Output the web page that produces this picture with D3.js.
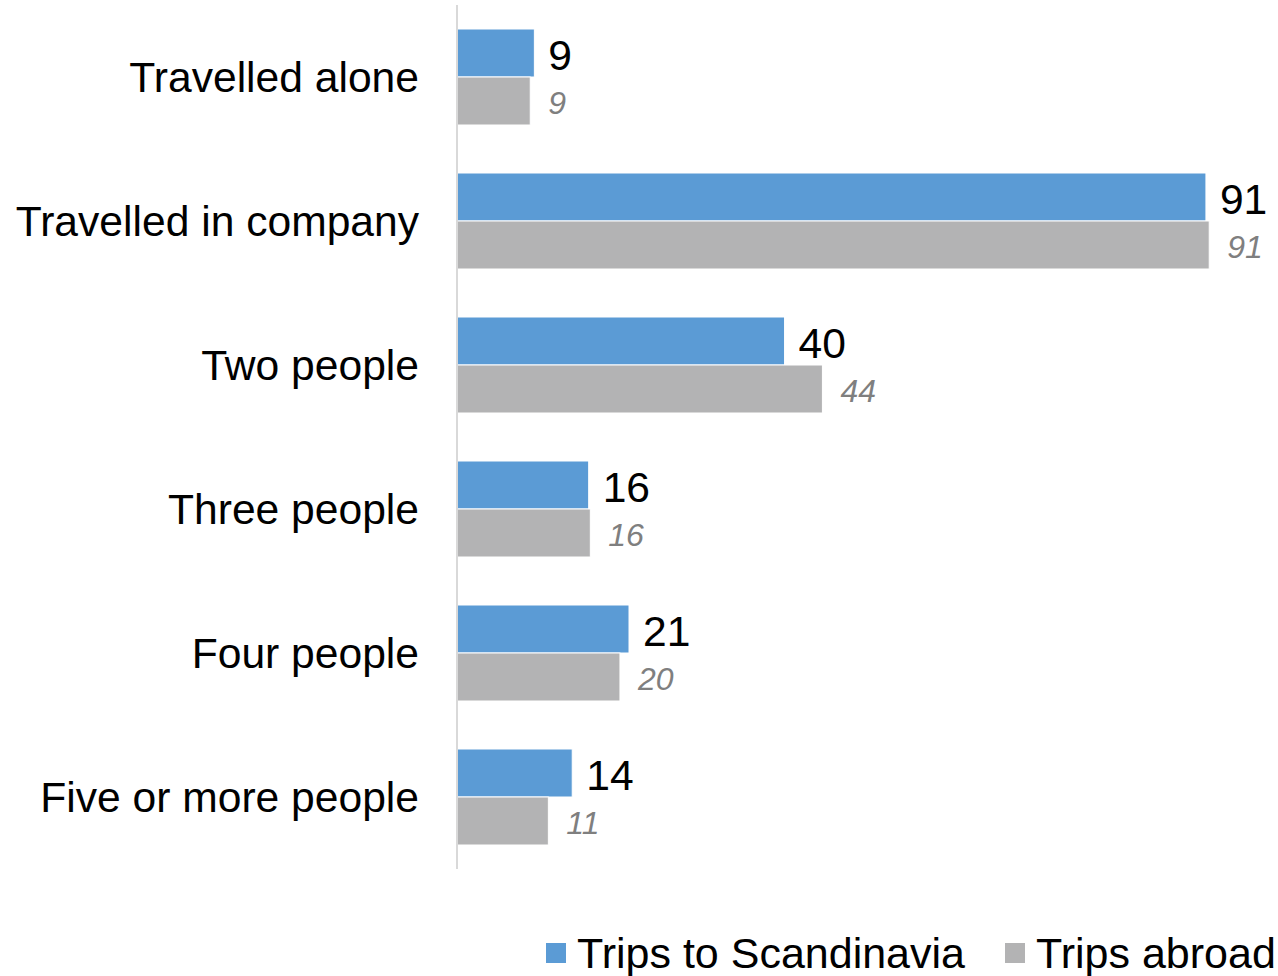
<!DOCTYPE html>
<html>
<head>
<meta charset="utf-8">
<script src="https://cdn.jsdelivr.net/npm/d3@7"></script>
<style>
  body { margin: 0; background: #fff; }
  text { font-family: "Liberation Sans", Arial, sans-serif; }
</style>
</head>
<body>
<div id="chart"></div>
<script>
/* Grouped horizontal bars: travel company, Scandinavia vs abroad */

const categories = ["Travelled alone", "Travelled in company", "Two people", "Three people", "Four people", "Five or more people"];
const seriesNames = ["Trips to Scandinavia", "Trips abroad"];
const scandinavia = [9.4, 91.0, 39.8, 16.0, 20.9, 14.0];
const abroad = [8.9, 91.4, 44.4, 16.2, 19.8, 11.1];
const colors = ["#5b9bd5", "#b3b3b4"];

const width = 1278,
      height = 976,
      margin = ({ top: 5, right: 0, bottom: 107, left: 457 });

const data = categories.map((c, i) => ({ cat: c, values: [scandinavia[i], abroad[i]] }));

let svg = d3.select("#chart")
    .append("svg")
    .attr("width", width)
    .attr("height", height);

let x = d3.scaleLinear()
    .domain([0, 100])
    .range([margin.left, margin.left + 823]);

let y = d3.scaleBand()
    .domain(categories)
    .range([margin.top, height - margin.bottom])
    .paddingInner(1 / 3)
    .paddingOuter(1 / 6);

let sub = d3.scaleBand()
    .domain([0, 1])
    .range([0, y.bandwidth()]);

// category labels
svg.append("g")
  .selectAll("text")
  .data(categories)
  .join("text")
    .attr("x", margin.left - 38)
    .attr("y", d => y(d) + y.bandwidth() / 2)
    .attr("dy", "0.35em")
    .attr("text-anchor", "end")
    .attr("font-size", 42.6)
    .attr("fill", "#000")
    .text(d => d);

let group = svg.selectAll(".grp")
  .data(data)
  .join("g")
    .attr("class", "grp")
    .attr("transform", d => `translate(0,${y(d.cat)})`);

group.selectAll("rect")
  .data(d => d.values.map((v, j) => ({ v, j })))
  .join("rect")
    .attr("x", x(0))
    .attr("y", d => sub(d.j))
    .attr("width", d => x(d.v) - x(0))
    .attr("height", sub.bandwidth())
    .attr("fill", d => colors[d.j])
    .attr("stroke", "#fff")
    .attr("stroke-width", 1);

group.selectAll("text")
  .data(d => d.values.map((v, j) => ({ v, j })))
  .join("text")
    .attr("x", d => x(d.v) + (d.j === 0 ? 14 : 18))
    .attr("y", d => sub(d.j) + sub.bandwidth() / 2 + 2)
    .attr("dy", "0.35em")
    .attr("font-size", d => d.j === 0 ? 42.6 : 32)
    .attr("font-style", d => d.j === 0 ? "normal" : "italic")
    .attr("fill", d => d.j === 0 ? "#000" : "#7f7f7f")
    .text(d => Math.round(d.v));

// vertical axis line
svg.append("line")
    .attr("x1", x(0)).attr("x2", x(0))
    .attr("y1", margin.top).attr("y2", height - margin.bottom)
    .attr("stroke", "#d9d9d9")
    .attr("stroke-width", 2);

// legend
const legendX = [546, 1005];
let legend = svg.selectAll(".legend")
  .data(seriesNames)
  .join("g")
    .attr("class", "legend")
    .attr("transform", (d, i) => `translate(${legendX[i]},953)`);

legend.append("rect")
    .attr("x", 0)
    .attr("y", -10)
    .attr("width", 20)
    .attr("height", 20)
    .attr("fill", (d, i) => colors[i]);

legend.append("text")
    .attr("x", 31)
    .attr("dy", "0.35em")
    .attr("font-size", 43)
    .attr("fill", "#000")
    .text(d => d);
</script>
</body>
</html>
